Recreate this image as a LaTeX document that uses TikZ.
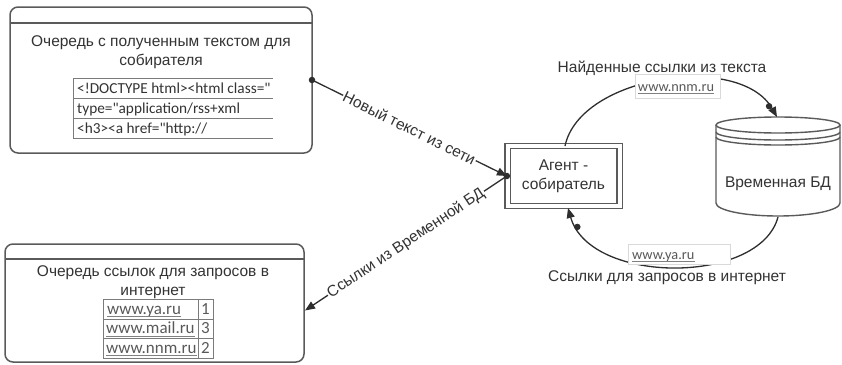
\documentclass[tikz,border=0pt]{standalone}
\usepackage{fontspec}
\setmainfont{Liberation Sans}
\newfontfamily\calib{Carlito}
\usetikzlibrary{arrows.meta}
\definecolor{ln}{HTML}{2E2E2E}
\definecolor{bx}{HTML}{5A5A5A}
\definecolor{tx}{HTML}{333333}
\begin{document}
\begin{tikzpicture}[x=1pt,y=-1pt,
  font=\fontsize{15.5}{18.5}\selectfont, text=tx,
  qbox/.style={draw=bx, line width=1.5pt, rounded corners=8pt},
  hdr/.style={draw=bx, line width=1.3pt},
  conn/.style={draw=ln, line width=1.3pt, -{Triangle[length=10pt,width=8pt]}},
  dotn/.style={circle, fill=ln, inner sep=0pt, minimum size=6.5pt},
  lbl/.style={fill=white, inner sep=1pt, text=tx},
  tline/.style={draw=bx!80, line width=0.8pt},
  link/.style={font=\calib\fontsize{14.3}{16}\selectfont, text=black!65, inner sep=0pt},
  blink/.style={font=\calib\fontsize{17}{19}\selectfont, text=black!65, inner sep=0pt},
  ul/.style={draw=black!50, line width=0.6pt},
  lbox/.style={draw=black!15, line width=0.6pt, fill=white},
  cyl/.style={draw=bx, line width=1.4pt}
]
\useasboundingbox (0,0) rectangle (842,364);

% ---- top-left queue box
\draw[qbox] (10,7) rectangle (312,153);
\draw[hdr] (10,23) -- (312,23);
\node[align=center] (qtext) at (161,52) {Очередь с полученным текстом для\\собирателя};
% table
\draw[tline] (73,78) -- (273,78) (73,98) -- (273,98) (73,118) -- (273,118) (73,138) -- (273,138) (73,78) -- (73,138);
\begin{scope}[every node/.style={anchor=base west, font=\calib\fontsize{15.3}{17}\selectfont, text=tx, inner sep=0pt}]
\node (r1) at (77,93) {<!DOCTYPE html><html class="};
\node (r2) at (77,113) {type="application/rss+xml};
\node (r3) at (77,133) {<h3><a href="http://};
\end{scope}

% ---- bottom-left queue box
\draw[qbox] (5,244) rectangle (304,362);
\draw[hdr] (5,259) -- (304,259);
\node[align=center] (qtext2) at (153,282) {Очередь ссылок для запросов в\\интернет};
\draw[tline] (103,299) rectangle (213,358);
\draw[tline] (103,319) -- (213,319) (103,338.5) -- (213,338.5) (198,299) -- (198,358);
\begin{scope}[every node/.style={blink, anchor=base west}]
\node (u1) at (107,314) {www.ya.ru};
\node (u2) at (106,333.5) {www.mail.ru};
\node (u3) at (106,353) {www.nnm.ru};
\node[anchor=base] (n1) at (205.5,314) {1};
\node[anchor=base] (n2) at (205.5,333.5) {3};
\node[anchor=base] (n3) at (205.5,353) {2};
\end{scope}
\draw[ul] ([yshift=-2.5pt]u1.base west) -- ([yshift=-2.5pt]u1.base east);
\draw[ul] ([yshift=-2.5pt]u2.base west) -- ([yshift=-2.5pt]u2.base east);
\draw[ul] ([yshift=-2.5pt]u3.base west) -- ([yshift=-2.5pt]u3.base east);

% ---- agent
\node[draw=bx, line width=1.2pt, double=white, double distance=4pt,
      minimum width=112pt, minimum height=60pt, align=center,
      font=\fontsize{15.5}{19}\selectfont] (agent) at (563.5,176) {Агент -\\собиратель};

% ---- database cylinder
\coordinate (dbc) at (778,125);
\draw[cyl, fill=white] (716,125) -- (716,203) arc[start angle=180, end angle=360, x radius=62pt, y radius=13pt] -- (840,125);
\draw[cyl] (dbc) ellipse [x radius=62pt, y radius=8pt];
\draw[cyl] (716,132) arc[start angle=180, end angle=360, x radius=62pt, y radius=8pt];
\draw[cyl] (716,137) arc[start angle=180, end angle=360, x radius=62pt, y radius=8pt];
\node (db) at (778,184) {Временная БД};
\coordinate (dbtop) at (777,117);
\coordinate (dbbot) at (778,217);

% ---- connectors
\node[dotn] (d1) at (312,80) {};
\draw[conn] (d1.center) -- node[lbl, sloped] {Новый текст из сети} (agent.west);

\node[dotn] (d2) at (agent.west) {};
\coordinate (qin) at (305,310.5);
\draw[conn] (d2.center) -- node[lbl, sloped] {Ссылки из Временной БД} (qin);

\coordinate (atop) at (565,146);
\coordinate (abot) at (568,208);
\draw[conn] (atop) .. controls (580,75) and (740,52) .. node[pos=0.94, dotn] (d3) {} (dbtop);
\draw[conn] (dbbot) .. controls (760,285) and (590,285) .. node[pos=0.91, dotn] (d4) {} (abot);

% ---- arc labels
\node[lbl, inner sep=2pt] (lt) at (662,68) {Найденные ссылки из текста};
\node[lbox, minimum width=85pt, minimum height=24pt] (nnmb) at (677.5,86) {};
\node[link, anchor=base] (nnm) at (676,91) {www.nnm.ru};
\draw[ul] ([yshift=-2.2pt]nnm.base west) -- ([yshift=-2.2pt]nnm.base east);

\node[lbox, minimum width=102pt, minimum height=20pt] (yab) at (679,254) {};
\node[link, anchor=base west] (ya) at (632,259) {www.ya.ru};
\draw[ul] ([yshift=-2.2pt]ya.base west) -- ([yshift=-2.2pt]ya.base east);
\node[lbl, inner sep=2pt] (lb) at (667,278) {Ссылки для запросов в интернет};
\end{tikzpicture}
\end{document}
